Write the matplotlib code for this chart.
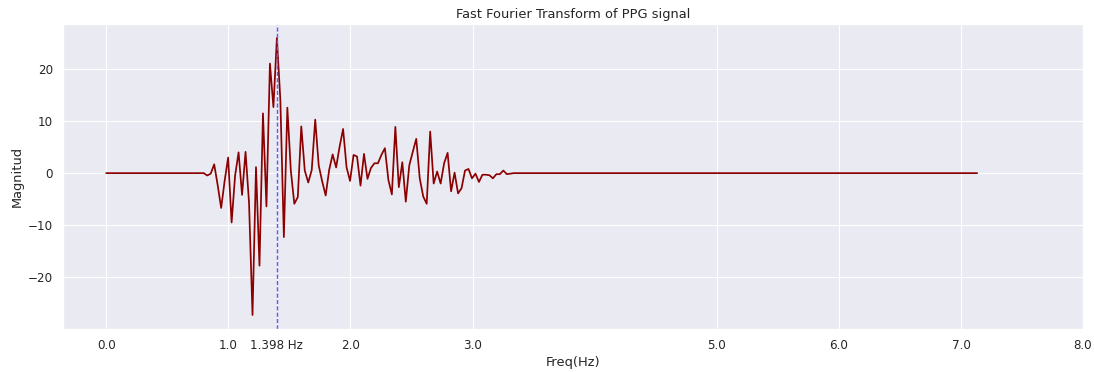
import numpy as np
import matplotlib
matplotlib.use("Agg")
import matplotlib.pyplot as plt
import seaborn as sns

# FFT bins: 251 evenly spaced frequencies, peak bin at 1.398 Hz (bin 49)
peak_freq = 1.398
n_bins = 251
freq = np.arange(n_bins) * (peak_freq / 49)

# non-zero part of the spectrum (bins 28..117), everything else is 0
lead_zeros = 28
band = [0.0, -0.45, -0.1, 1.7, -2.3, -6.7, -1.5, 3.0, -9.5, -0.5,
        4.0, -4.2, 4.1, -5.7, -27.3, 1.15, -17.8, 11.5, -6.4, 21.1,
        12.7, 26.0, 14.0, -12.3, 12.6, 0.5, -5.9, -4.6, 9.0, 0.5,
        -1.8, 0.6, 10.3, 1.5, -1.6, -4.3, 0.6, 3.6, 1.1, 5.1,
        8.5, 1.1, -1.5, 3.5, 3.2, -2.4, 3.7, -1.1, 1.0, 1.9,
        1.9, 3.5, 4.8, -1.3, -4.1, 8.9, -2.7, 2.1, -5.5, 1.5,
        4.1, 6.6, -1.0, -4.5, -5.9, 8.0, -2.0, 0.3, -2.0, 1.9,
        3.9, -3.5, 0.1, -3.9, -2.9, 0.5, 0.8, -1.0, -0.1, -1.7,
        -0.3, -0.3, -0.4, -1.0, -0.2, -0.2, 0.5, -0.2, -0.1, 0.0]
magnitude = [0.0] * lead_zeros + band + [0.0] * (n_bins - lead_zeros - len(band))

xtick_vals = [0.0, 1.0, peak_freq, 2.0, 3.0, 5.0, 6.0, 7.0, 8.0]
xtick_labels = ["0.0", "1.0", "1.398 Hz", "2.0", "3.0", "5.0", "6.0", "7.0", "8.0"]

sns.set_theme(style="darkgrid")

dpi = 78
fig, ax = plt.subplots(figsize=(1094 / dpi, 372 / dpi), dpi=dpi)
fig.subplots_adjust(left=0.058, right=0.990, top=0.935, bottom=0.116)

ax.plot(freq, magnitude, color="darkred", linewidth=1.6)
ax.axvline(peak_freq, color="#5a5aff", linestyle=(0, (3, 1.5)), linewidth=1.3)

ax.set_xticks(xtick_vals)
ax.set_xticklabels(xtick_labels)
ax.set_xlim(-0.35, 8.0)
ax.set_yticks([-20, -10, 0, 10, 20])

ax.set_title("Fast Fourier Transform of PPG signal")
ax.set_xlabel("Freq(Hz)")
ax.set_ylabel("Magnitud")

fig.savefig("out.png", dpi=dpi)
